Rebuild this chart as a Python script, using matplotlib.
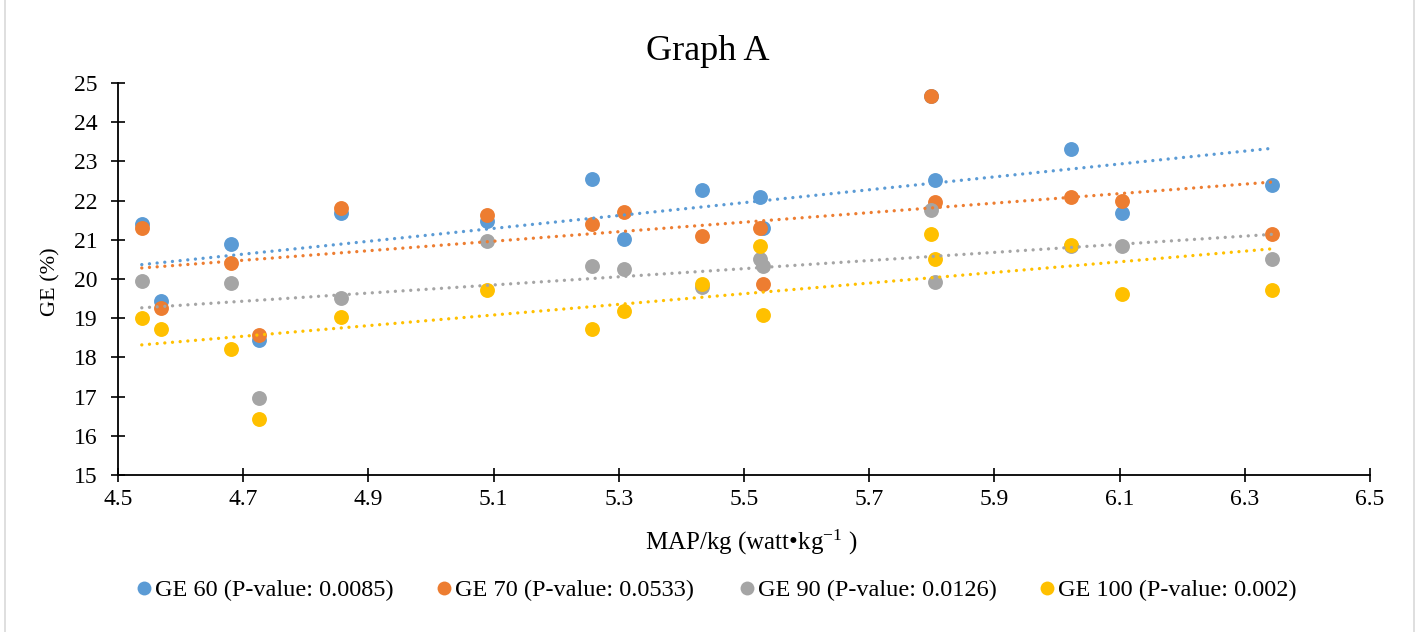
import matplotlib
matplotlib.use("Agg")
import matplotlib.pyplot as plt
import numpy as np
from matplotlib.lines import Line2D
from matplotlib.patches import Rectangle

plt.rcParams["font.family"] = ["Liberation Serif", "DejaVu Serif"]
plt.rcParams["mathtext.fontset"] = "custom"
plt.rcParams["mathtext.rm"] = "Liberation Serif"
plt.rcParams["mathtext.it"] = "Liberation Serif:italic"

# MAP/kg per subject (watt/kg)
map_kg = [4.538, 4.568, 4.680, 4.726, 4.856, 5.090, 5.257, 5.308,
          5.433, 5.526, 5.530, 5.799, 5.805, 6.022, 6.104, 6.344]

# nan = no value for that subject
ge_60 = [21.41, 19.45, 20.89, 18.45, 21.68, 21.49, 22.56, 21.03,
         22.27, 22.10, 21.31, 24.66, 22.52, 23.31, 21.68, 22.39]
ge_70 = [21.30, 19.26, 20.42, 18.56, 21.82, 21.64, 21.41, 21.70,
         21.10, 21.31, 19.87, 24.66, 21.97, 22.09, 22.00, 21.15]
ge_90 = [19.96, np.nan, 19.89, 16.97, 19.52, 20.96, 20.34, 20.25,
         19.79, 20.51, 20.32, 21.77, 19.93, 20.85, 20.85, 20.51]
ge_100 = [19.00, 18.73, 18.22, 16.43, 19.03, 19.71, 18.73, 19.18,
          19.87, 20.85, 19.09, 21.16, 20.50, 20.87, 19.63, 19.72]

labels = ["GE 60 (P-value: 0.0085)", "GE 70 (P-value: 0.0533)",
          "GE 90 (P-value: 0.0126)", "GE 100 (P-value: 0.002)"]
colours = ["#5B9BD5", "#ED7D31", "#A5A5A5", "#FFC000"]
legend_x = [137, 437, 740, 1040]  # left edge of each legend entry (px)

x_ticks = [4.5, 4.7, 4.9, 5.1, 5.3, 5.5, 5.7, 5.9, 6.1, 6.3, 6.5]
y_ticks = list(range(15, 26))

W, H = 1423, 632
fig = plt.figure(figsize=(W / 100, H / 100), dpi=100)
ax = fig.add_axes([118 / W, 1 - 475 / H, (1370 - 118) / W, (475 - 83) / H])

x = np.asarray(map_kg)
all_series = [ge_60, ge_70, ge_90, ge_100]
for ys, col in zip(all_series, colours):
    ax.scatter(x, ys, s=115, color=col, linewidths=0, zorder=3)

# linear trendlines, drawn over the markers like Excel does
for ys, col in zip(all_series, colours):
    ys = np.asarray(ys, dtype=float)
    ok = ~np.isnan(ys)
    slope, icpt = np.polyfit(x[ok], ys[ok], 1)
    xs = np.array([x[ok].min(), x[ok].max()])
    ax.plot(xs, slope * xs + icpt, color=col, linewidth=2.4,
            linestyle=(0, (0.01, 2.3)), dash_capstyle="round", zorder=4)

ax.set_xlim(4.5, 6.5)
ax.set_ylim(15, 25)
ax.set_xticks(x_ticks)
ax.set_xticklabels([f"{t:.1f}" for t in x_ticks])
ax.set_yticks(y_ticks)
for side in ("top", "right"):
    ax.spines[side].set_visible(False)
for side in ("left", "bottom"):
    ax.spines[side].set_linewidth(1.3)
ax.tick_params(direction="inout", length=10, width=1.2, labelsize=17)
ax.tick_params(axis="x", pad=5)
ax.tick_params(axis="y", pad=10)

fig.text(708 / W, 1 - 52 / H, "Graph A", ha="center", va="center", fontsize=26)
fig.text(51 / W, 1 - 282 / H, "GE (%)", ha="center", va="center",
         rotation=90, fontsize=16)
fig.text(751 / W, 1 - 542 / H, r"MAP/kg (watt•kg$^{-1}$ )", ha="center",
         va="center", fontsize=18)

# one legend entry each, placed where Excel put them
for lab, col, lx in zip(labels, colours, legend_x):
    handle = Line2D([], [], linestyle="none", marker="o", markersize=10,
                    markerfacecolor=col, markeredgewidth=0)
    fig.legend([handle], [lab], loc="center left",
               bbox_to_anchor=(lx / W, 1 - 590 / H), frameon=False,
               fontsize=17.5, handletextpad=0.2, handlelength=0.55,
               borderaxespad=0, borderpad=0)

fig.add_artist(Rectangle((5 / W, -0.01), (1414 - 5) / W, 1.02,
                         transform=fig.transFigure, fill=False,
                         edgecolor="#d9d9d9", linewidth=1.2))

fig.savefig("out.png", dpi=100)
